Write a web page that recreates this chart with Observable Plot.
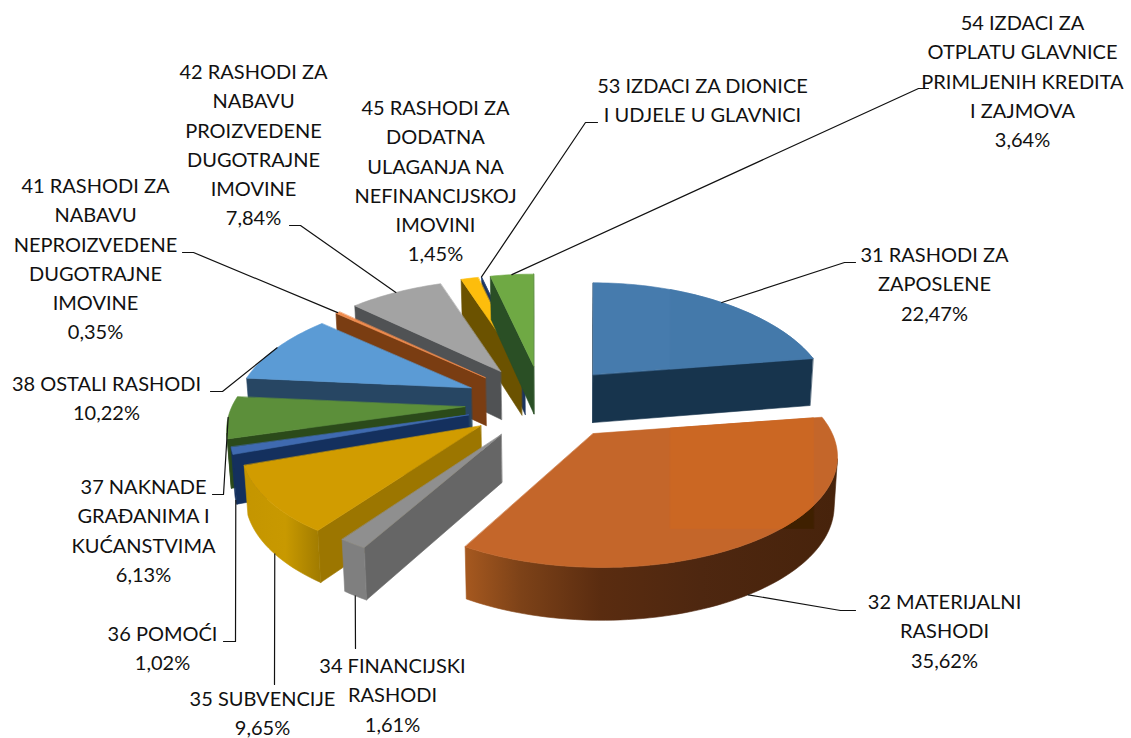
<!DOCTYPE html>
<html><head><meta charset="utf-8">
<style>html,body{margin:0;padding:0;background:#fff}svg{display:block}</style>
<script src="https://cdn.jsdelivr.net/npm/d3@7"></script>
<script src="https://cdn.jsdelivr.net/npm/@observablehq/plot@0.6"></script>
</head><body><div id="chart"></div>
<script>
// Chart values
const codes  = ["31","32","34","35","36","37","38","41","42","45","53","54"];
const shares = [22.47,35.62,1.61,9.65,1.02,6.13,10.22,0.35,7.84,1.45,0,3.64];
const names  = [
  ["31 RASHODI ZA","ZAPOSLENE"],
  ["32 MATERIJALNI","RASHODI"],
  ["34 FINANCIJSKI","RASHODI"],
  ["35 SUBVENCIJE"],
  ["36 POMOĆI"],
  ["37 NAKNADE","GRAĐANIMA I","KUĆANSTVIMA"],
  ["38 OSTALI RASHODI"],
  ["41 RASHODI ZA","NABAVU","NEPROIZVEDENE","DUGOTRAJNE","IMOVINE"],
  ["42 RASHODI ZA","NABAVU","PROIZVEDENE","DUGOTRAJNE","IMOVINE"],
  ["45 RASHODI ZA","DODATNA","ULAGANJA NA","NEFINANCIJSKOJ","IMOVINI"],
  ["53 IZDACI ZA DIONICE","I UDJELE U GLAVNICI"],
  ["54 IZDACI ZA","OTPLATU GLAVNICE","PRIMLJENIH KREDITA","I ZAJMOVA"]
];
// Styles, per slice
const topColors = ["#467bad","#c4662a","#8f8f8f","#d19c00","#3f6ab0","#5c8f3a","#5b9bd5","#f08c4e","#a3a3a3","#fdbd0c","#264478","#6fa944"];
const cutColors = ["#17344d","#6b3412","#666666","#9c7600","#14305e","#2b4a1a","#274663","#7a3d12","#505254","#6b5200","#1c3560","#2a4f25"];
const rimFills  = ["#17344d","url(#rim32)","#7f7f7f","url(#rim35)","#14305e","#2b4a1a","#274663","#7a3d12","#505254","#6b5200","#1c3560","#2a4f25"];
const rimGradients = {
  rim32: [[466,"#a5581f"],[520,"#7d4218"],[600,"#5a2c10"],[700,"#4e2710"],[835,"#47230b"]],
  rim35: [[241,"#c49500"],[285,"#c89900"],[321,"#9f7a00"]]
};
const drawOrder = ["53","45","54","42","41","38","37","36","35","34","31","32"];
// A lighter/darker tile that the reference shows on the right of the two big slices
const tile = {x0: 670, x1: 813, y0: 280, y1: 528};
const tileTop = {"31": "#4479aa", "32": "#cb6723"};
const tileRim = {"32": "#3f2000"};
// Label layout: centre x, first line y, then the leader's route from the slice to the label
const labelX = [934,944,392,262,162,143,106,95,253,435,702,1022];
const labelY = [255,602,666,699,634,487,384,186,72,108,86,23];
const lineGap = 29.3;
const leaderRoutes = [
  [[844,262],[855,262]],
  [[840,610],[855,610]],
  [[355,648]],
  [[274,684]],
  [[235,641],[223,641]],
  [[223,494],[212,494]],
  [[222,391],[210,391]],
  [[193,252],[182,252]],
  [[300,225],[289,225]],
  [],
  [[585,122],[597,122]],
  [[918,88],[928,88]]
];

// Pie geometry: exploded slices seen in perspective
const cx = 542, cy = 402.5, explodeX = 78, explodeY = 37.3;
const Rscale = 230, persp = 0.21, tilt = 0.46, backLift = 0.05, wall = 48;
const apexNudge = {"32": 6}, rimNudge = {"32": 15, "35": -4, "36": -3, "37": -3};
const leaderTurn = {"32": 3, "35": -1.5};
const rad = d => d * Math.PI / 180;

let acc = 0;
const slices = codes.map((code, i) => {
  const a0 = acc * 3.6; acc += shares[i]; const a1 = acc * 3.6; const mid = (a0 + a1) / 2;
  const ax = cx + explodeX * Math.sin(rad(mid));
  return {code, i, a0, a1, mid, ax,
    ay: cy - explodeY * Math.cos(rad(mid)),
    apexX: ax + (apexNudge[code] || 0), rimX: ax + (rimNudge[code] || 0)};
});
const rimPoint = (s, deg) => {
  const X = Math.sin(rad(deg)), Y = Math.cos(rad(deg));
  const k = Rscale / (1 + persp * Y);
  return {x: s.rimX + X * k, y: s.ay - tilt * (1 + backLift * Math.max(Y, 0)) * Y * k, Y};
};
const lower = p => {
  const Y = p.Y ?? 0;
  return {x: p.x - (p.x - 560) * 0.012, y: p.y + wall * (1 - 0.1 * Y), Y};
};
const area = pts => d3.polygonArea(pts.map(p => [p.x, p.y]));
// Keep the part of a polygon inside the tile
const clipToTile = pts => {
  const cut = (poly, inside, cross) => {
    const out = [];
    poly.forEach((a, i) => {
      const b = poly[(i + 1) % poly.length];
      if (inside(a)) out.push(a);
      if (inside(a) !== inside(b)) out.push(cross(a, b));
    });
    return out;
  };
  const atX = v => (a, b) => ({x: v, y: a.y + (b.y - a.y) * (v - a.x) / (b.x - a.x)});
  const atY = v => (a, b) => ({x: a.x + (b.x - a.x) * (v - a.y) / (b.y - a.y), y: v});
  let r = pts;
  r = cut(r, p => p.x >= tile.x0, atX(tile.x0));
  r = cut(r, p => p.x <= tile.x1, atX(tile.x1));
  r = cut(r, p => p.y >= tile.y0, atY(tile.y0));
  r = cut(r, p => p.y <= tile.y1, atY(tile.y1));
  return r;
};

const polys = [];
let pid = 0;
const addPoly = (pts, color) => { const id = pid++; pts.forEach(p => polys.push({id, x: p.x, y: p.y, color})); };
for (const code of drawOrder) {
  const s = slices[codes.indexOf(code)];
  const apex = {x: s.apexX, y: s.ay, Y: 0};
  const n = Math.max(1, Math.ceil((s.a1 - s.a0) / 1.5));
  const rim = d3.range(n + 1).map(k => rimPoint(s, s.a0 + (s.a1 - s.a0) * k / n));
  const side = (U, V, color) => {
    const q = [U, V, lower(V), lower(U)];
    if (area(q) > 0) addPoly(q, color);
  };
  side(apex, rim[0], cutColors[s.i]);
  side(rim[n], apex, cutColors[s.i]);
  // the visible run of the outer wall, as one polygon
  const seen = d3.range(n).filter(k => area([rim[k], rim[k + 1], lower(rim[k + 1]), lower(rim[k])]) > 0);
  if (seen.length && s.a1 > s.a0) {
    const run = rim.slice(seen[0], seen[seen.length - 1] + 2);
    const wallPoly = [...run, ...run.map(lower).reverse()];
    addPoly(wallPoly, rimFills[s.i]);
    if (tileRim[code]) {
      const t = clipToTile(wallPoly);
      if (t.length > 2) addPoly(t, tileRim[code]);
    }
  }
  const topPoly = [apex, ...rim];
  addPoly(topPoly, topColors[s.i]);
  if (tileTop[code]) {
    const t = clipToTile(topPoly);
    if (t.length > 2) addPoly(t, tileTop[code]);
  }
}

// Labels and leaders
const textRows = [];
const leaderRows = [];
slices.forEach((s, i) => {
  const lines = names[i].slice();
  if (shares[i] > 0) lines.push(shares[i].toFixed(2).replace(".", ",") + "%");
  lines.forEach((t, k) => textRows.push({t, x: labelX[i], y: labelY[i] + k * lineGap}));
  const route = leaderRoutes[i];
  if (route.length) {
    let p = rimPoint(s, s.mid + (leaderTurn[s.code] || 0));
    if (s.mid > 100 && s.mid < 260) p = lower(p);
    [[p.x, p.y], ...route].forEach(([x, y]) => leaderRows.push({id: i, x, y}));
  }
});

const chart = Plot.plot({
  width: 1131, height: 738,
  margin: 0,
  x: {domain: [0, 1131], range: [0, 1131], axis: null},
  y: {domain: [0, 738], range: [0, 738], axis: null},
  color: {type: "identity"},
  style: {background: "#fff"},
  marks: [
    Plot.line(polys, {x: "x", y: "y", z: "id", fill: "color", stroke: "color", strokeWidth: 0.6, curve: "linear-closed"}),
    Plot.line(leaderRows, {x: "x", y: "y", z: "id", stroke: "#111", strokeWidth: 1.2, curve: "linear"}),
    Plot.text(textRows, {x: "x", y: "y", text: "t", fontFamily: "Lato", fontSize: 20, fill: "#111", textAnchor: "middle", lineAnchor: "middle"})
  ]
});
const defs = d3.select(chart).insert("defs", ":first-child");
for (const [id, stops] of Object.entries(rimGradients)) {
  const x0 = stops[0][0], x1 = stops[stops.length - 1][0];
  const g = defs.append("linearGradient").attr("id", id).attr("gradientUnits", "userSpaceOnUse")
    .attr("x1", x0).attr("x2", x1).attr("y1", 0).attr("y2", 0);
  stops.forEach(([x, c]) => g.append("stop").attr("offset", (x - x0) / (x1 - x0)).attr("stop-color", c));
}
document.getElementById("chart").append(chart);
</script></body></html>
